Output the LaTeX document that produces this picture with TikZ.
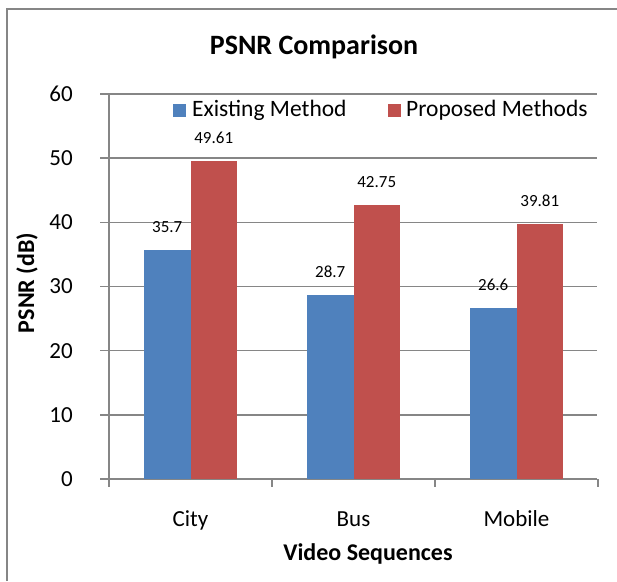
\documentclass[tikz,border=0pt]{standalone}
\usepackage{fontspec}
\setmainfont{Carlito}
\usetikzlibrary{positioning}
\definecolor{existblue}{HTML}{4F81BD}
\definecolor{proposedred}{HTML}{C0504D}
\definecolor{axisgray}{HTML}{868686}

\begin{document}
\begin{tikzpicture}[x=1pt, y=1pt, font=\fontsize{23}{27}\selectfont]
    % Styles
    \tikzstyle{gridline} = [draw=axisgray, line width=1.5pt]
    \tikzstyle{ticklabel} = [anchor=east, inner sep=0pt]
    \tikzstyle{value} = [anchor=south, inner sep=0pt, font=\fontsize{17}{20}\selectfont]
    \tikzstyle{catlabel} = [anchor=base, inner sep=0pt]
    \tikzstyle{axislabel} = [anchor=base, inner sep=0pt, font=\fontsize{24}{29}\selectfont\bfseries]
    \tikzstyle{key} = [minimum size=13pt, inner sep=0pt]
    \tikzstyle{keytext} = [anchor=base west, inner sep=0pt, font=\fontsize{23.5}{28}\selectfont]

    \useasboundingbox (0,0) rectangle (617,581);

    % Frame
    \draw [axisgray, line width=2pt] (7,0) -- (7,572) -- (617,572);

    % Title
    \node [anchor=base, inner sep=0pt, font=\fontsize{28}{33}\selectfont\bfseries] (title) at (314,526) {PSNR Comparison};

    % Plot
    \begin{scope}[shift={(109,102)}, y=6.417pt]
        \foreach \v in {0,10,...,60} {
            \draw [gridline] (-9,\v) -- (488,\v);
            \node [ticklabel] (tick\v) at (-36,\v) {\v};
        }
        \draw [gridline] (0,0) -- (0,60);
        \foreach \i in {0,...,3}
            \draw [gridline] (163*\i,0) -- ++(0pt,-8pt);

        % Bars
        \foreach \i/\name/\old/\new in {0/City/35.7/49.61, 1/Bus/28.7/42.75, 2/Mobile/26.6/39.81} {
            \fill [existblue] (35+163*\i,0) rectangle (81.5+163*\i,\old);
            \fill [proposedred] (81.5+163*\i,0) rectangle (128+163*\i,\new);
            \node [value] (old\i) at (58.25+163*\i,\old) [yshift=17pt] {\old};
            \node [value] (new\i) at (104.75+163*\i,\new) [yshift=17pt] {\new};
            \node [catlabel] (cat\i) at (81.5+163*\i,0) [yshift=-47pt] {\name};
        }
    \end{scope}

    % Axis titles
    \node [axislabel] (xtitle) at (368,21) {Video Sequences};
    \node [axislabel, rotate=90] (ytitle) at (34,298) {PSNR (dB)};

    % Legend
    \node [key, fill=existblue] (keyold) at (179,470.5) {};
    \node [keytext] (textold) at (192,464) {Existing Method};
    \node [key, fill=proposedred] (keynew) at (394,470.5) {};
    \node [keytext] (textnew) at (406,464) {Proposed Methods};
\end{tikzpicture}
\end{document}
